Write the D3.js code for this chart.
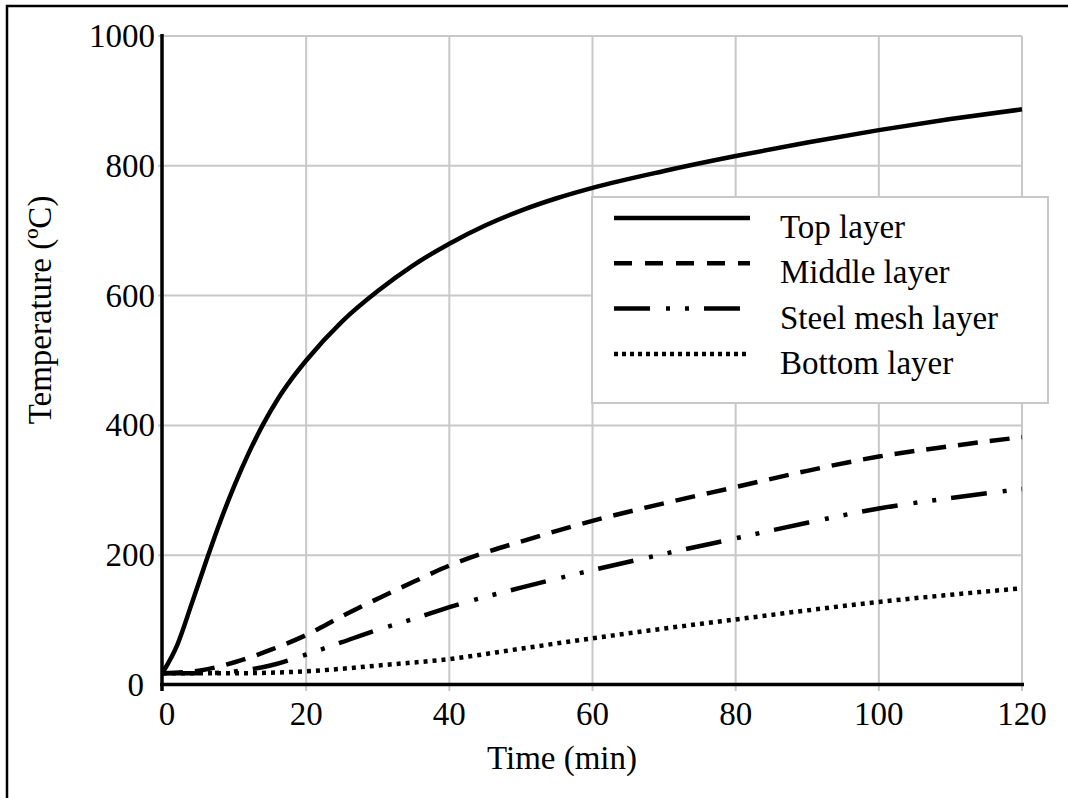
<!DOCTYPE html>
<html>
<head>
<meta charset="utf-8">
<script src="https://cdn.jsdelivr.net/npm/d3@7"></script>
<style>
  html, body { margin: 0; padding: 0; background: #fff; }
  svg text { font-family: "Liberation Serif", "Times New Roman", serif; fill: #000; }
</style>
</head>
<body>
<svg id="chart" width="1068" height="798"></svg>
<script>
// Temperature history of the slab layers during fire exposure
const topTime = [0, 2, 4, 6, 8, 10, 12, 14, 16, 18, 20, 25, 30, 35, 40, 45, 50, 55, 60, 70, 80, 90, 100, 110, 120];
const topTemp = [20, 62, 125, 190, 252, 308, 358, 402, 440, 472, 500, 560, 607, 647, 680, 708, 731, 750, 766, 792, 815, 836, 855, 872, 887];

const middleTime = [0, 5, 10, 15, 20, 25, 30, 35, 40, 45, 50, 60, 70, 80, 90, 100, 110, 120];
const middleTemp = [18, 22, 35, 54, 77, 106, 133, 159, 184, 204, 221, 253, 280, 305, 330, 352, 368, 382];

const steelTime = [0, 5, 10, 15, 20, 25, 30, 35, 40, 50, 60, 70, 80, 90, 100, 110, 120];
const steelTemp = [18, 18, 21, 30, 47, 66, 85, 102, 120, 150, 177, 202, 226, 250, 272, 288, 302];

const bottomTime = [0, 10, 15, 20, 25, 30, 40, 50, 60, 70, 80, 90, 100, 110, 120];
const bottomTemp = [18, 18, 19, 21, 25, 30, 40, 56, 72, 87, 101, 115, 128, 139, 149];

const seriesNames = ["Top layer", "Middle layer", "Steel mesh layer", "Bottom layer"];
const xTicks = [0, 20, 40, 60, 80, 100, 120];
const yTicks = [0, 200, 400, 600, 800, 1000];

const svg = d3.select("#chart");
const FONT = 33;

const x = d3.scaleLinear().domain([0, 120]).range([163, 1022]);
const y = d3.scaleLinear().domain([0, 1000]).range([685, 36]);

// outer frame (top and left edges)
svg.append("path")
  .attr("d", "M7,798V6H1068")
  .attr("fill", "none").attr("stroke", "#000").attr("stroke-width", 2.5);

// grid
const grid = svg.append("g").attr("stroke", "#c8c8c8").attr("stroke-width", 2);
grid.selectAll("line.v").data(xTicks.slice(1)).join("line")
  .attr("x1", d => x(d)).attr("x2", d => x(d))
  .attr("y1", y(1000)).attr("y2", 691);
grid.selectAll("line.h").data(yTicks.slice(1)).join("line")
  .attr("x1", 158).attr("x2", x(120))
  .attr("y1", d => y(d)).attr("y2", d => y(d));

// axis lines
svg.append("line").attr("x1", 162).attr("x2", 162).attr("y1", y(1000) - 2).attr("y2", 691)
  .attr("stroke", "#000").attr("stroke-width", 3.5);
svg.append("line").attr("x1", 160).attr("x2", x(120) + 2).attr("y1", 684.5).attr("y2", 684.5)
  .attr("stroke", "#000").attr("stroke-width", 3.5);

// tick labels (the shared origin labels are nudged away from the corner)
svg.selectAll("text.xt").data(xTicks).join("text")
  .attr("class", "xt")
  .attr("x", d => x(d)).attr("y", 725)
  .attr("dx", d => d === 0 ? 4 : 0)
  .attr("text-anchor", "middle").attr("font-size", FONT)
  .text(d => d);
svg.selectAll("text.yt").data(yTicks).join("text")
  .attr("class", "yt")
  .attr("x", 155).attr("y", d => y(d) + 11)
  .attr("dx", d => d === 0 ? -11 : 0)
  .attr("text-anchor", "end").attr("font-size", FONT)
  .text(d => d);

// axis titles
svg.append("text").attr("x", 562).attr("y", 769)
  .attr("text-anchor", "middle").attr("font-size", FONT)
  .text("Time (min)");
svg.append("text").attr("transform", "translate(51,310) rotate(-90)")
  .attr("text-anchor", "middle").attr("font-size", FONT)
  .text("Temperature (ºC)");

// curves
const styles = [
  { dash: null, width: 4.5 },
  { dash: "20,12", width: 4.5 },
  { dash: "36,16,4,15,4,15", width: 4.5 },
  { dash: "4,5", width: 4.5 }
];
const series = [
  d3.zip(topTime, topTemp),
  d3.zip(middleTime, middleTemp),
  d3.zip(steelTime, steelTemp),
  d3.zip(bottomTime, bottomTemp)
];
const line = d3.line().x(d => x(d[0])).y(d => y(d[1])).curve(d3.curveMonotoneX);

svg.append("g").selectAll("path").data(series).join("path")
  .attr("d", line)
  .attr("fill", "none").attr("stroke", "#000")
  .attr("stroke-width", (d, i) => styles[i].width)
  .attr("stroke-dasharray", (d, i) => styles[i].dash);

// legend
const legend = svg.append("g");
legend.append("rect")
  .attr("x", 592).attr("y", 197).attr("width", 456).attr("height", 206)
  .attr("fill", "#fff").attr("stroke", "#c8c8c8").attr("stroke-width", 2);
const legendDash = [null, "18,13", "36,16,4,15,4,15", "4,4"];
const rows = legend.selectAll("g.row").data(seriesNames).join("g")
  .attr("transform", (d, i) => `translate(0,${218 + i * 45.3})`);
rows.append("line")
  .attr("x1", 614).attr("x2", 750).attr("y1", 0).attr("y2", 0)
  .attr("stroke", "#000").attr("stroke-width", 4.5)
  .attr("stroke-dasharray", (d, i) => legendDash[i]);
rows.append("text")
  .attr("x", 780).attr("y", 20)
  .attr("font-size", FONT)
  .text(d => d);
</script>
</body>
</html>
